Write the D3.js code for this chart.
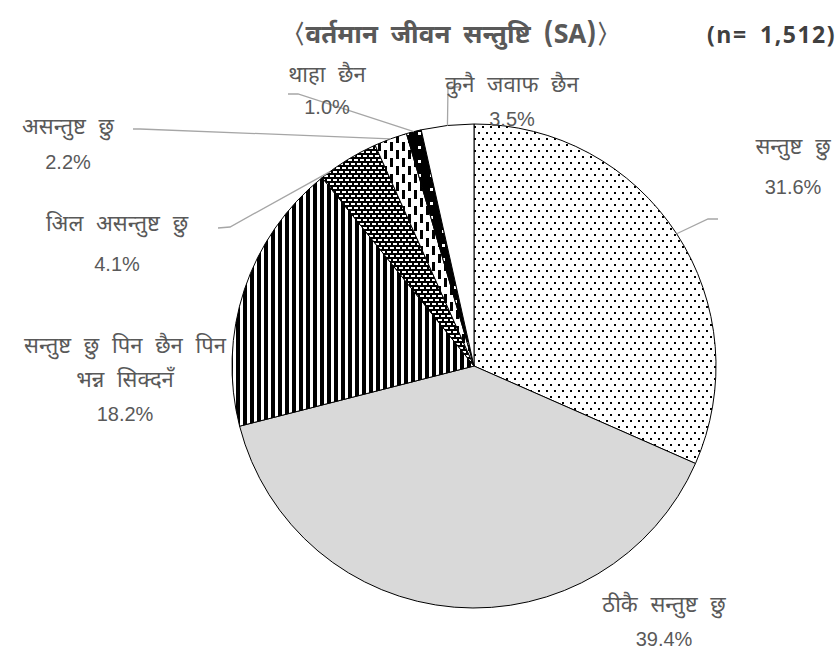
<!DOCTYPE html>
<html>
<head>
<meta charset="utf-8">
<script src="https://cdn.jsdelivr.net/npm/d3@7"></script>
<style>
  body { margin: 0; background: #fff; }
  svg { display: block; }
  .lbl { font-family: "Noto Sans Devanagari", "Noto Sans", "Liberation Sans", sans-serif; font-size: 22px; word-spacing: 7px; fill: #595959; }
  .pct { font-family: "Liberation Sans", Arial, sans-serif; font-size: 20px; fill: #595959; }
</style>
</head>
<body>
<div id="chart"></div>
<script>
// categories, clockwise from 12 o'clock
var categories = [
  ["सन्तुष्ट छु"],
  ["ठीकै सन्तुष्ट छु"],
  ["सन्तुष्ट छु पिन छैन पिन", "भन्न सिक्दनँ"],
  ["अिल असन्तुष्ट छु"],
  ["असन्तुष्ट छु"],
  ["थाहा छैन"],
  ["कुनै जवाफ छैन"]
];
var values = [31.6, 39.4, 18.2, 4.1, 2.2, 1.0, 3.5];
var pctLabels = ["31.6%", "39.4%", "18.2%", "4.1%", "2.2%", "1.0%", "3.5%"];
var title = "〈वर्तमान जीवन सन्तुष्टि (SA)〉";
var nLabel = "(n= 1,512)";

var width = 837, height = 650;
var cx = 474, cy = 366, radius = 242;

// label layout: centre x, first line baseline, percent baseline
var labelPos = [[793, 154, 194], [664, 612, 646], [125, 353, 421], [117, 231, 271],
                [68, 134, 169], [327, 82, 114], [512, 92, 126]];
// leader line start/elbow, and where along the slice it touches the rim
var leaders = [
  [[718, 219], [708, 219]],
  null,
  null,
  [[218, 228], [230, 227]],
  [[133, 129], [140, 129]],
  [[288, 94], [298, 94]],
  [[460, 87], [448, 87]]
];
var attach = [0.5, 0.5, 0.5, 0.15, 0.5, 0.5, 0.5];

var svg = d3.select("#chart").append("svg")
    .attr("width", width)
    .attr("height", height);

var defs = svg.append("defs");

// dots
var p0 = defs.append("pattern").attr("id", "pat0").attr("patternUnits", "userSpaceOnUse")
    .attr("width", 8).attr("height", 12);
p0.append("rect").attr("width", 8).attr("height", 12).attr("fill", "#fff");
p0.append("rect").attr("x", 0).attr("y", 0).attr("width", 2).attr("height", 2).attr("fill", "#000");
p0.append("rect").attr("x", 4).attr("y", 6).attr("width", 2).attr("height", 2).attr("fill", "#000");

// vertical stripes
var p2 = defs.append("pattern").attr("id", "pat2").attr("patternUnits", "userSpaceOnUse")
    .attr("width", 7).attr("height", 7);
p2.append("rect").attr("width", 7).attr("height", 7).attr("fill", "#fff");
p2.append("rect").attr("width", 4).attr("height", 7).attr("fill", "#000");

// black with white dashes (brick)
var p3 = defs.append("pattern").attr("id", "pat3").attr("patternUnits", "userSpaceOnUse")
    .attr("width", 6).attr("height", 8);
p3.append("rect").attr("width", 6).attr("height", 8).attr("fill", "#000");
p3.append("rect").attr("x", 0).attr("y", 1).attr("width", 4).attr("height", 2).attr("fill", "#fff");
p3.append("rect").attr("x", 3).attr("y", 5).attr("width", 4).attr("height", 2).attr("fill", "#fff");
p3.append("rect").attr("x", -3).attr("y", 5).attr("width", 4).attr("height", 2).attr("fill", "#fff");

// vertical dashes
var p4 = defs.append("pattern").attr("id", "pat4").attr("patternUnits", "userSpaceOnUse")
    .attr("width", 12).attr("height", 16);
p4.append("rect").attr("width", 12).attr("height", 16).attr("fill", "#fff");
p4.append("rect").attr("x", 0).attr("y", 0).attr("width", 3).attr("height", 9).attr("fill", "#000");
p4.append("rect").attr("x", 6).attr("y", 8).attr("width", 3).attr("height", 9).attr("fill", "#000");
p4.append("rect").attr("x", 6).attr("y", -8).attr("width", 3).attr("height", 9).attr("fill", "#000");

// black with white squares
var p5 = defs.append("pattern").attr("id", "pat5").attr("patternUnits", "userSpaceOnUse")
    .attr("width", 12).attr("height", 14);
p5.append("rect").attr("width", 12).attr("height", 14).attr("fill", "#000");
p5.append("rect").attr("x", 4).attr("y", 4).attr("width", 3).attr("height", 3).attr("fill", "#fff");

var fills = ["url(#pat0)", "#d9d9d9", "url(#pat2)", "url(#pat3)", "url(#pat4)", "url(#pat5)", "#fff"];

var pie = d3.pie().sort(null).value(function(d){ return d; });
var arcs = pie(values);
var arc = d3.arc().innerRadius(0).outerRadius(radius);

var g = svg.append("g").attr("transform", "translate(" + cx + "," + cy + ")");

g.selectAll("path.slice")
    .data(arcs)
  .enter().append("path")
    .attr("class", "slice")
    .attr("d", arc)
    .attr("fill", function(d, i){ return fills[i]; })
    .attr("stroke", "#000")
    .attr("stroke-width", 1);

// leader lines
var line = d3.line();
arcs.forEach(function(d, i){
    if(!leaders[i]) return;
    var a = d.startAngle + (d.endAngle - d.startAngle) * attach[i];
    var edge = [cx + radius * Math.sin(a), cy - radius * Math.cos(a)];
    svg.append("path")
        .attr("d", line(leaders[i].concat([edge])))
        .attr("fill", "none")
        .attr("stroke", "#a6a6a6")
        .attr("stroke-width", 1.3);
});

// labels
categories.forEach(function(lines, i){
    var x = labelPos[i][0], y = labelPos[i][1];
    var t = svg.append("text").attr("class", "lbl").attr("text-anchor", "middle");
    lines.forEach(function(s, j){
        t.append("tspan").attr("x", x).attr("y", y + j * 34).text(s);
    });
    svg.append("text").attr("class", "pct").attr("text-anchor", "middle")
        .attr("x", x).attr("y", labelPos[i][2])
        .text(pctLabels[i]);
});

svg.append("text")
    .attr("x", 451).attr("y", 43)
    .attr("text-anchor", "middle")
    .style("font-family", "'Noto Sans Devanagari', 'Noto Sans', sans-serif")
    .style("font-size", "26px")
    .style("font-weight", "bold")
    .style("word-spacing", "6px")
    .style("fill", "#595959")
    .text(title);

svg.append("text")
    .attr("x", 836).attr("y", 43)
    .attr("text-anchor", "end")
    .style("font-family", "'Open Sans', 'Noto Sans', sans-serif")
    .style("font-size", "23px")
    .style("font-weight", "bold")
    .style("letter-spacing", "1.5px")
    .style("word-spacing", "5px")
    .style("fill", "#404040")
    .text(nLabel);
</script>
</body>
</html>
